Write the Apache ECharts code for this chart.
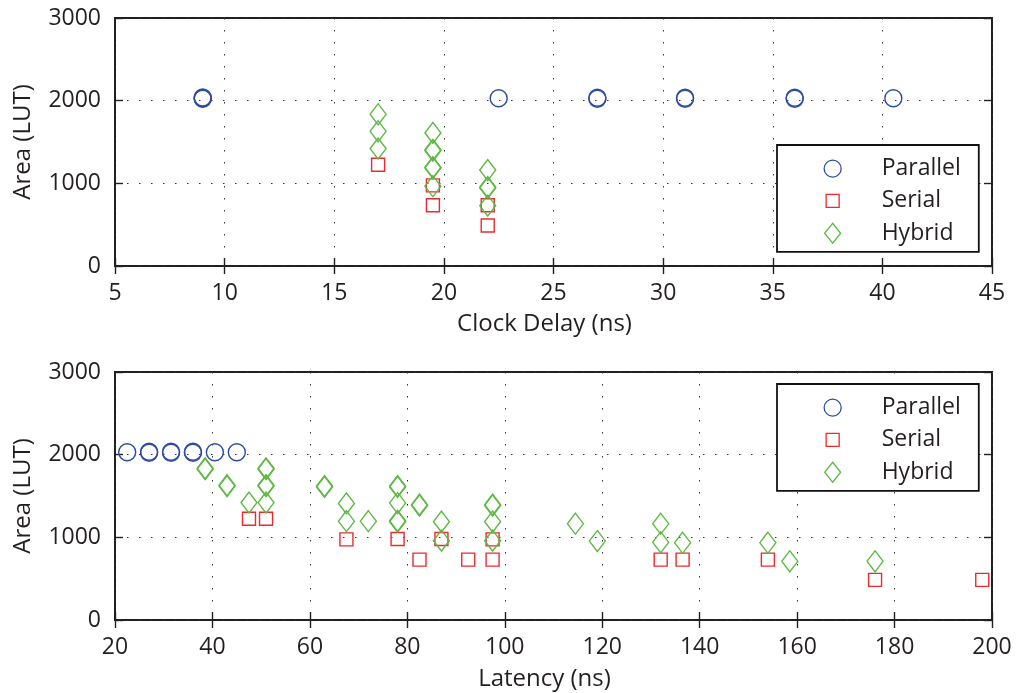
<!DOCTYPE html>
<html><head><meta charset="utf-8">
<script src="https://cdn.jsdelivr.net/npm/echarts@6/dist/echarts.min.js"></script>
<style>html,body{margin:0;padding:0;background:#fff}#c{width:1016px;height:693px}</style>
</head><body><div id="c"></div>
<script>
// ---------- data ----------
const seriesNames = ['Parallel', 'Serial', 'Hybrid'];
// Top: Clock Delay (ns) vs Area (LUT)
const topParallel = [[9,2022],[9,2030],[9,2038],[22.5,2030],[27,2024],[27,2036],[31,2024],[31,2036],[36,2024],[36,2036],[40.5,2030]];
const topSerial = [[17,1225],[19.5,975],[19.5,735],[22,735],[22,490]];
const topHybrid = [[17,1835],[17,1630],[17,1420],[19.5,1610],[19.5,1395],[19.5,1405],[19.5,1185],[19.5,1195],[19.5,965],[22,1160],[22,945],[22,955],[22,730]];
// Bottom: Latency (ns) vs Area (LUT)
const botParallel = [[22.5,2030],[27,2024],[27,2036],[31.5,2024],[31.5,2036],[36,2024],[36,2036],[40.5,2030],[45,2030]];
const botSerial = [[47.5,1225],[51,1225],[67.5,975],[78,980],[82.5,730],[87,980],[92.5,730],[97.5,975],[97.5,730],[132,730],[136.5,730],[154,730],[176,485],[198,485]];
const botHybrid = [[38.5,1825],[38.5,1835],[43,1620],[43,1630],[47.5,1420],[51,1825],[51,1835],[51,1620],[51,1630],[51,1420],[63,1610],[63,1620],[67.5,1410],[67.5,1195],[72,1195],[78,1610],[78,1620],[78,1415],[78,1190],[78,1200],[82.5,1385],[82.5,1395],[87,1190],[87,960],[97.5,1385],[97.5,1395],[97.5,1190],[97.5,960],[114.5,1165],[119,955],[132,1165],[132,940],[136.5,935],[154,935],[158.5,710],[176,710]];
const topX = {min: 5, max: 45, step: 5, title: 'Clock Delay (ns)'};
const botX = {min: 20, max: 200, step: 20, title: 'Latency (ns)'};
const yRange = {min: 0, max: 3000, step: 1000, title: 'Area (LUT)'};

// ---------- style ----------
const FONT = 'Open Sans';
const TXT = '#231f20';
const COLORS = {Parallel: '#2C4BA3', Serial: '#EC2A2E', Hybrid: '#5DB944'};
const SYMBOLS = {Parallel: ['circle', 17], Serial: ['rect', 13], Hybrid: ['diamond', [16, 21]]};
const ICONS = {
  Parallel: 'path://M-11,-11M11,11M-8.5,0A8.5,8.5,0,1,0,8.5,0A8.5,8.5,0,1,0,-8.5,0Z',
  Serial: 'path://M-11,-11M11,11M-6.5,-6.5L6.5,-6.5L6.5,6.5L-6.5,6.5Z',
  Hybrid: 'path://M-11,-11M11,11M0,-10L8,0L0,10L-8,0Z'
};
const gridLine = {show: true, lineStyle: {color: '#333', width: 1, type: [1.5, 10.5]}};
const plain = v => String(v);

function xAxes(cfg, gi, gap) {
  return [{
    type: 'value', gridIndex: gi, min: cfg.min, max: cfg.max, interval: cfg.step, position: 'bottom',
    name: cfg.title, nameLocation: 'middle', nameGap: gap,
    nameTextStyle: {fontFamily: FONT, fontSize: 24, color: TXT, padding: [0, 18, 0, 0]},
    axisLine: {show: false}, axisTick: {show: true, inside: true, length: 8, lineStyle: {color: TXT, width: 1.4}},
    axisLabel: {fontFamily: FONT, fontSize: 23, color: TXT, margin: 16, formatter: plain},
    splitLine: gridLine
  }, {
    type: 'value', gridIndex: gi, min: cfg.min, max: cfg.max, interval: cfg.step, position: 'top',
    axisLine: {show: false}, axisTick: {show: true, inside: true, length: 8, lineStyle: {color: TXT, width: 1.4}},
    axisLabel: {show: false}, splitLine: {show: false}
  }];
}
function yAxes(cfg, gi) {
  return [{
    type: 'value', gridIndex: gi, min: cfg.min, max: cfg.max, interval: cfg.step, position: 'left',
    name: cfg.title, nameLocation: 'middle', nameGap: 80, nameRotate: 90,
    nameTextStyle: {fontFamily: FONT, fontSize: 24, color: TXT},
    axisLine: {show: false}, axisTick: {show: true, inside: true, length: 8, lineStyle: {color: TXT, width: 1.4}},
    axisLabel: {fontFamily: FONT, fontSize: 23, color: TXT, margin: 14, formatter: plain},
    splitLine: gridLine
  }, {
    type: 'value', gridIndex: gi, min: cfg.min, max: cfg.max, interval: cfg.step, position: 'right',
    axisLine: {show: false}, axisTick: {show: true, inside: true, length: 8, lineStyle: {color: TXT, width: 1.4}},
    axisLabel: {show: false}, splitLine: {show: false}
  }];
}
function scatter(name, data, axisIdx) {
  return {
    type: 'scatter', name: name, data: data, xAxisIndex: axisIdx, yAxisIndex: axisIdx,
    symbol: SYMBOLS[name][0], symbolSize: SYMBOLS[name][1],
    itemStyle: {color: 'rgba(0,0,0,0)', borderColor: COLORS[name], borderWidth: 1.4, opacity: 1},
    emphasis: {disabled: true}, z: 3
  };
}
function legend(top) {
  return {
    orient: 'vertical', left: 777, top: top, selectedMode: false,
    backgroundColor: '#fff', borderColor: '#111', borderWidth: 1.8,
    padding: [12, 18, 7, 44], itemGap: 9, itemWidth: 88, itemHeight: 22,
    textStyle: {fontFamily: FONT, fontSize: 23, color: TXT},
    data: seriesNames.map(n => ({name: n, icon: ICONS[n],
      itemStyle: {color: 'rgba(0,0,0,0)', borderColor: COLORS[n], borderWidth: 1.3}}))
  };
}

const chart = echarts.init(document.getElementById('c'), null, {renderer: 'canvas'});
chart.setOption({
  animation: false,
  backgroundColor: '#fff',
  grid: [
    {left: 115, right: 24, top: 18, height: 248, show: true, borderColor: TXT, borderWidth: 2, backgroundColor: 'rgba(0,0,0,0)'},
    {left: 115, right: 24, top: 372, height: 248, show: true, borderColor: TXT, borderWidth: 2, backgroundColor: 'rgba(0,0,0,0)'}
  ],
  xAxis: [...xAxes(topX, 0, 46), ...xAxes(botX, 1, 47)],
  yAxis: [...yAxes(yRange, 0), ...yAxes(yRange, 1)],
  legend: [legend(145), legend(384)],
  series: [
    scatter('Parallel', topParallel, 0), scatter('Serial', topSerial, 0), scatter('Hybrid', topHybrid, 0),
    scatter('Parallel', botParallel, 2), scatter('Serial', botSerial, 2), scatter('Hybrid', botHybrid, 2)
  ]
});
</script></body></html>
